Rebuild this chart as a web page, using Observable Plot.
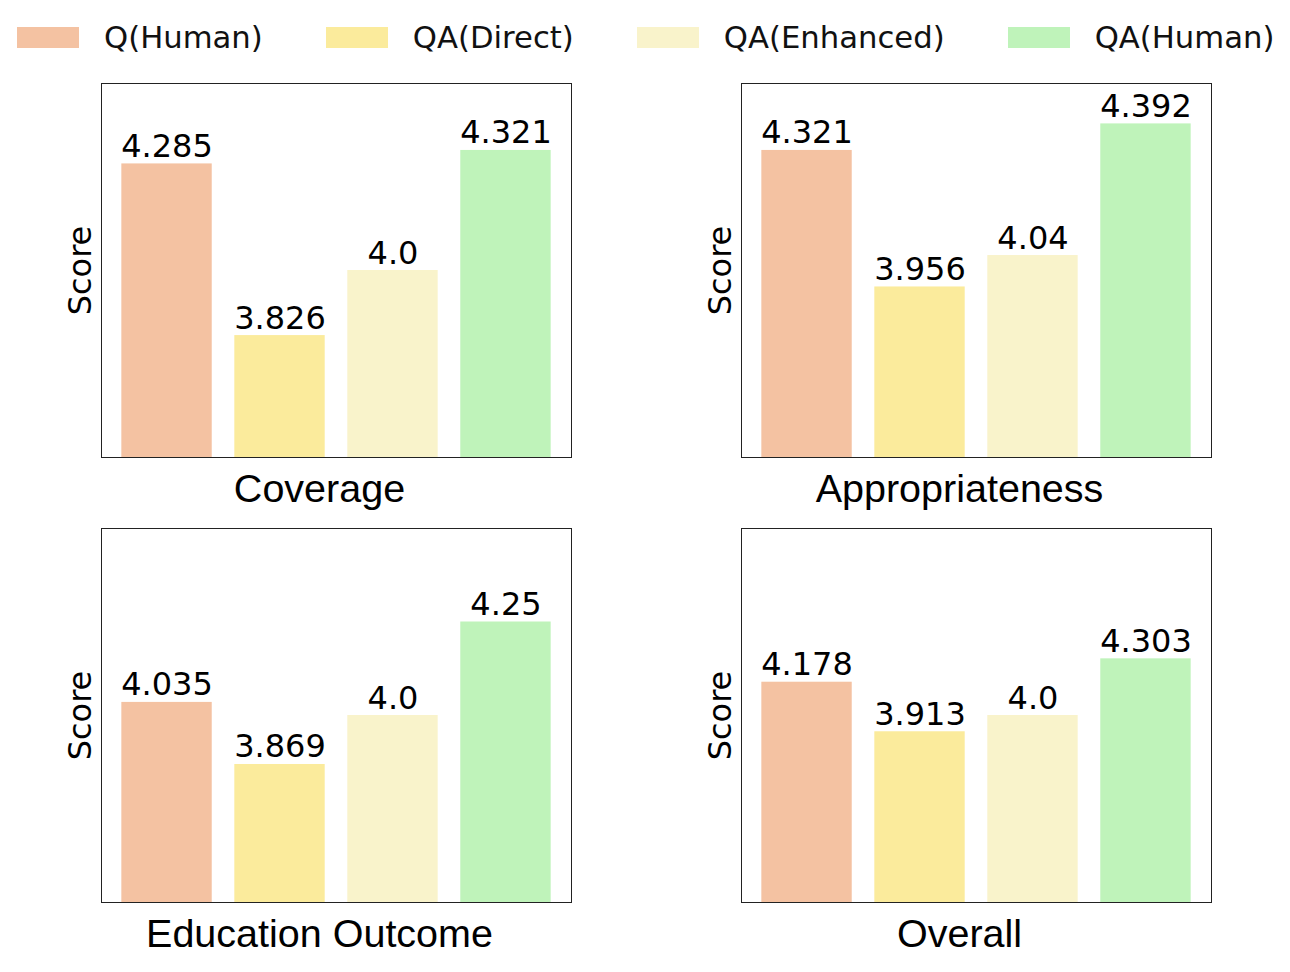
<!DOCTYPE html>
<html>
<head>
<meta charset="utf-8">
<script src="https://cdn.jsdelivr.net/npm/d3@7"></script>
<script src="https://cdn.jsdelivr.net/npm/@observablehq/plot@0.6"></script>
<style>
  html, body { margin: 0; padding: 0; background: #fff; }
  #root { position: relative; width: 1290px; height: 972px; overflow: hidden; }
  #legend { position: absolute; left: 17px; top: 16px; height: 42px; display: flex; align-items: center; gap: 63px;
            font-family: "DejaVu Sans", sans-serif; font-size: 30.7px; color: #111; white-space: nowrap; }
  .item { display: flex; align-items: center; gap: 25px; }
  .sw { width: 62px; height: 21px; }
  .panel { position: absolute; }
</style>
</head>
<body>
<div id="root">
  <div id="legend"></div>
</div>
<script>
// ---- data ----
const methods = ["Q(Human)", "QA(Direct)", "QA(Enhanced)", "QA(Human)"];
const colors = ["#f4c2a2", "#fbeb9c", "#f9f3cb", "#bff3ba"];
const metrics = ["Coverage", "Appropriateness", "Education Outcome", "Overall"];
const coverage = [4.285, 3.826, 4.0, 4.321];
const appropriateness = [4.321, 3.956, 4.04, 4.392];
const educationOutcome = [4.035, 3.869, 4.0, 4.25];
const overall = [4.178, 3.913, 4.0, 4.303];
const yDomains = [[3.5, 4.5], [3.5, 4.5], [3.5, 4.5], [3, 5]];

const seriesByMetric = [coverage, appropriateness, educationOutcome, overall];

// ---- legend ----
const legend = document.getElementById("legend");
methods.forEach((m, i) => {
  const item = document.createElement("div");
  item.className = "item";
  const sw = document.createElement("div");
  sw.className = "sw";
  sw.style.background = colors[i];
  const lab = document.createElement("span");
  lab.textContent = m;
  item.appendChild(sw);
  item.appendChild(lab);
  legend.appendChild(item);
});

const fmt = v => Number.isInteger(v) ? v.toFixed(1) : String(v);

const root = document.getElementById("root");
metrics.forEach((metric, k) => {
  const data = methods.map((m, i) => ({method: m, value: seriesByMetric[k][i]}));
  const chart = Plot.plot({
    width: 640,
    height: 460,
    marginLeft: 101,
    marginRight: 69,
    marginTop: 23,
    marginBottom: 63,
    style: {background: "transparent", overflow: "visible"},
    x: {domain: methods, paddingInner: 0.2, paddingOuter: 0.18, round: false},
    y: {domain: yDomains[k]},
    color: {domain: methods, range: colors},
    marks: [
      Plot.barY(data, {x: "method", y: "value", fill: "method", clip: true}),
      Plot.text(data, {x: "method", y: "value", text: d => fmt(d.value), lineAnchor: "bottom", dy: -7,
                       fontSize: 32, fontFamily: "DejaVu Sans", fill: "#000"}),
      Plot.frame({stroke: "#222", strokeWidth: 1}),
      Plot.axisX({ticks: [], tickSize: 0, label: null}),
      Plot.text([metric], {frameAnchor: "bottom", lineAnchor: "top", dy: 16, dx: -17,
                           fontSize: 39.5, fontFamily: "Liberation Sans", fill: "#000"}),
      Plot.axisY({ticks: [], tickSize: 0, label: "Score", labelAnchor: "center", labelOffset: 33,
                  fontSize: 32, fontFamily: "DejaVu Sans", fill: "#000", labelArrow: "none"})
    ]
  });
  chart.classList.add("panel");
  chart.style.left = (k % 2 === 0 ? 0 : 640) + "px";
  chart.style.top = (k < 2 ? 60 : 505) + "px";
  root.appendChild(chart);
});
</script>
</body>
</html>
